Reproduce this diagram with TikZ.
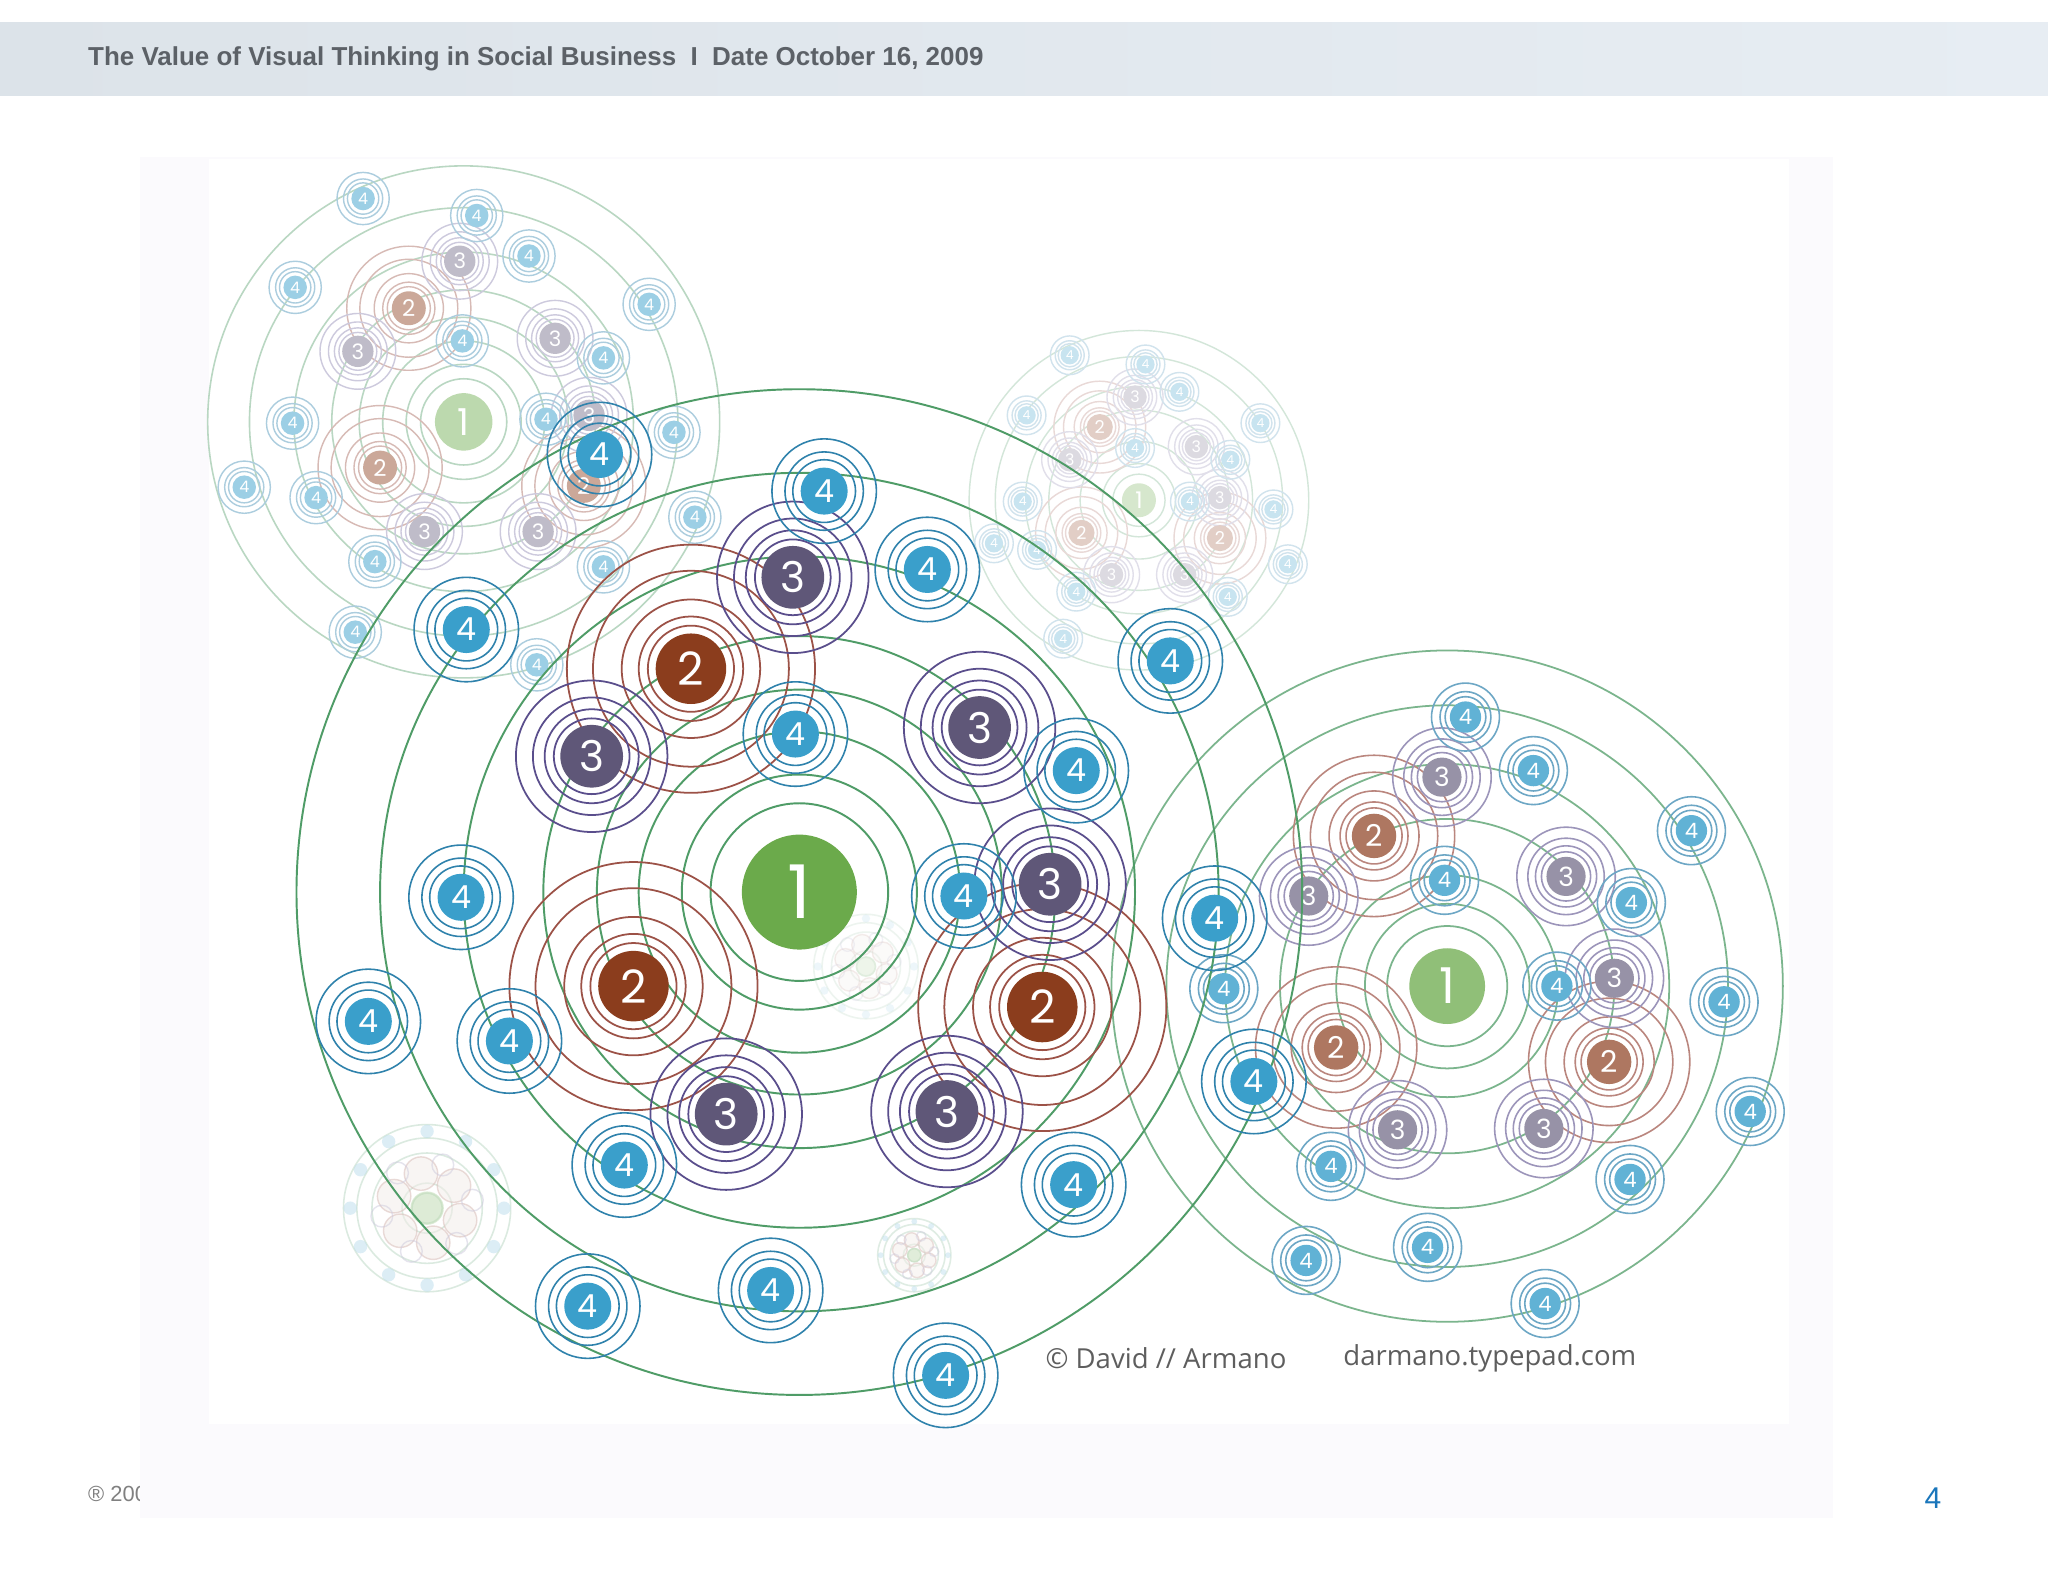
\documentclass[tikz,border=0pt]{standalone}
\usepackage{fontspec}
\setmainfont{Liberation Sans}
\newfontfamily\digitfont{Poppins}
\newfontfamily\creditfont{Open Sans}
\usetikzlibrary{positioning}

\definecolor{hdrleft}{HTML}{DCE3E9}
\definecolor{hdrright}{HTML}{E7EDF3}
\definecolor{hdrtext}{HTML}{5C6167}
\definecolor{panel}{HTML}{FBFAFD}
\definecolor{pageblue}{HTML}{1A76BB}
\definecolor{credit}{HTML}{5E5E5E}
\definecolor{mgreen}{HTML}{4F9C67}
\definecolor{mgreenfill}{HTML}{6BAA4B}
\definecolor{mbrown}{HTML}{8B3D1D}
\definecolor{mbrownline}{HTML}{9C5247}
\definecolor{mpurple}{HTML}{5F5778}
\definecolor{mpurpleline}{HTML}{5A4E8C}
\definecolor{mblue}{HTML}{3A9FCB}
\definecolor{mblueline}{HTML}{2F82AC}

\tikzset{
  disc/.style={circle, inner sep=0pt, text=white, minimum size=#1*0.026cm},
  % main cluster
  mline/.style={draw=mgreen, line width=0.55pt},
  mtworing/.style={draw=mbrownline, line width=0.5pt},
  mthreering/.style={draw=mpurpleline, line width=0.5pt},
  mfourring/.style={draw=mblueline, line width=0.45pt},
  mone/.style={disc=44, fill=mgreenfill, font=\digitfont\fontsize{21}{21}\selectfont},
  mtwo/.style={disc=27, fill=mbrown, font=\digitfont\fontsize{13}{13}\selectfont},
  mthree/.style={disc=24, fill=mpurple, font=\digitfont\fontsize{12}{12}\selectfont},
  mfour/.style={disc=18, fill=mblue, font=\digitfont\fontsize{9}{9}\selectfont},
  % right cluster
  rline/.style={draw=mgreen!75!white, line width=0.5pt},
  rtworing/.style={draw=mbrownline!70!white, line width=0.45pt},
  rthreering/.style={draw=mpurpleline!60!white, line width=0.45pt},
  rfourring/.style={draw=mblueline!70!white, line width=0.45pt},
  rone/.style={disc=29, fill=mgreenfill!75!white, font=\digitfont\fontsize{14}{14}\selectfont},
  rtwo/.style={disc=17, fill=mbrown!70!white, font=\digitfont\fontsize{8.5}{8.5}\selectfont},
  rthree/.style={disc=15, fill=mpurple!65!white, font=\digitfont\fontsize{7.5}{7.5}\selectfont},
  rfour/.style={disc=12, fill=mblue!80!white, font=\digitfont\fontsize{6}{6}\selectfont},
  % top left cluster
  tline/.style={draw=mgreen!40!white, line width=0.45pt},
  ttworing/.style={draw=mbrownline!40!white, line width=0.4pt},
  tthreering/.style={draw=mpurpleline!30!white, line width=0.4pt},
  tfourring/.style={draw=mblueline!40!white, line width=0.4pt},
  tone/.style={disc=22, fill=mgreenfill!45!white, font=\digitfont\fontsize{10.5}{10.5}\selectfont},
  ttwo/.style={disc=13, fill=mbrown!45!white, font=\digitfont\fontsize{6.5}{6.5}\selectfont},
  tthree/.style={disc=12, fill=mpurple!40!white, font=\digitfont\fontsize{6}{6}\selectfont},
  tfour/.style={disc=9, fill=mblue!50!white, font=\digitfont\fontsize{4.5}{4.5}\selectfont},
  % top middle cluster
  uline/.style={draw=mgreen!25!white, line width=0.4pt},
  utworing/.style={draw=mbrownline!22!white, line width=0.4pt},
  uthreering/.style={draw=mpurpleline!18!white, line width=0.4pt},
  ufourring/.style={draw=mblueline!22!white, line width=0.4pt},
  uone/.style={disc=13, fill=mgreenfill!28!white, font=\digitfont\fontsize{6.5}{6.5}\selectfont},
  utwo/.style={disc=10, fill=mbrown!25!white, font=\digitfont\fontsize{5}{5}\selectfont},
  uthree/.style={disc=9, fill=mpurple!22!white, font=\digitfont\fontsize{4.5}{4.5}\selectfont},
  ufour/.style={disc=7, fill=mblue!28!white, font=\digitfont\fontsize{3.5}{3.5}\selectfont},
  credittext/.style={inner sep=0pt, text=credit, font=\creditfont\fontsize{7.8}{9}\selectfont},
}

% #1 prefix, #2 theme, #3 scale, #4 centre, #5 orbit radii, #6 twos, #7 threes, #8 fours
\newcommand{\drawcluster}[8]{%
  \foreach \r in {#5} \draw[#2line] #4 circle (\r);
  \foreach \x/\y in {#6} \foreach \r in {33,40,53,75,95} \draw[#2tworing] (\x,\y) circle ({#3*\r});
  \foreach \x/\y in {#7} \foreach \r in {29,36,45,58} \draw[#2threering] (\x,\y) circle ({#3*\r});
  \foreach \x/\y in {#8} \foreach \r in {24,30,40} \draw[#2fourring] (\x,\y) circle ({#3*\r});
  \foreach \x/\y [count=\i] in {#8} \node[#2four] (#1-4-\i) at (\x,\y) {4};
  \foreach \x/\y [count=\i] in {#7} \node[#2three] (#1-3-\i) at (\x,\y) {3};
  \foreach \x/\y [count=\i] in {#6} \node[#2two] (#1-2-\i) at (\x,\y) {2};
  \node[#2one] (#1-1) at #4 {1};
}

% tiny faded cluster: name, x, y, radius, opacity
\newcommand{\minicluster}[5]{%
  \begin{scope}[shift={(#2,#3)}, opacity=#5]
    \foreach \f in {1,0.84,0.66,0.3,0.18} \draw[tline] (0,0) circle ({#4*\f});
    \foreach \a in {20,80,...,320} \draw[ttworing, fill=mbrown!10] (\a:{#4*0.42}) circle ({#4*0.2});
    \foreach \a in {50,110,...,350} \draw[tthreering] (\a:{#4*0.55}) circle ({#4*0.13});
    \foreach \a in {0,30,...,330} \fill[mblue!35!white] (\a:{#4*0.92}) circle ({#4*0.08});
    \node[tone, minimum size={#4*0.2*0.026cm}] (#1) at (0,0) {};
  \end{scope}
}

\begin{document}
\begin{tikzpicture}[x=0.013cm, y=-0.013cm]
  \useasboundingbox (0,0) rectangle (1568,1211);
  \fill[white] (0,0) rectangle (1568,1211);

  % header
  \fill[left color=hdrleft, right color=hdrright] (0,17) rectangle (1568,73);
  \node[anchor=west, inner sep=0pt, text=hdrtext, font=\bfseries\fontsize{7.35}{9}\selectfont]
    (title) at (67,45) {The Value of Visual Thinking in Social Business\ \ I\ \ Date October 16, 2009};

  % footer
  \node[anchor=west, inner sep=0pt, text=gray, font=\fontsize{6.2}{7}\selectfont] (copy) at (67,1144) {® 2009};
  \node[inner sep=0pt, text=pageblue, font=\fontsize{8.5}{9}\selectfont] (pagenum) at (1480,1147) {4};

  % picture panel
  \fill[panel] (107,120) rectangle (1403,1162);
  \fill[white] (160,122) rectangle (1370,1090);

  % faded clusters
  \drawcluster{u}{u}{0.37}{(872,383)}{20,28,45,69,87,110,130}
    {842/327, 828/408, 934/412}
    {869/304, 916/342, 934/381, 851/440, 907/440, 819/352}
    {819/272, 877/279, 903/300, 786/318, 965/324, 869/343, 942/352, 783/384,
     911/384, 975/390, 761/416, 794/421, 986/432, 824/453, 940/457, 814/489}
  \drawcluster{t}{t}{0.5}{(355,323)}{33,44,62,80,101,130,164,196}
    {313/236, 291/358, 447/372}
    {352/200, 274/269, 425/259, 325/407, 412/407, 451/318}
    {278/152, 365/165, 405/196, 226/220, 497/233, 354/261, 462/274, 224/324,
     418/321, 516/331, 187/373, 242/381, 532/396, 287/430, 462/434, 272/484, 411/509}
  \minicluster{mini1}{327}{925}{64}{0.5}
  \minicluster{mini2}{700}{961}{28}{0.45}
  \minicluster{mini3}{663}{740}{40}{0.25}

  % right cluster
  \drawcluster{r}{r}{0.65}{(1108,755)}{46,63,85,128,170,215,257}
    {1052/640, 1023/802, 1232/813}
    {1104/595, 1002/686, 1199/671, 1236/749, 1070/865, 1182/864}
    {1122/549, 1174/590, 1295/636, 1106/674, 1249/691, 1192/755, 1320/767,
     1340/851, 937/757, 1019/893, 1248/903, 1000/965, 1093/955, 1183/998}

  % main cluster
  \drawcluster{m}{m}{1}{(612,683)}{68,90,123,155,196,257,321,385}
    {529/512, 485/755, 798/771}
    {607/442, 453/579, 750/557, 804/677, 556/853, 725/851}
    {631/376, 710/436, 357/482, 459/348, 896/506, 609/562, 824/590, 353/687, 738/686,
     930/703, 282/782, 390/797, 960/828, 478/892, 822/907, 450/1000, 590/988, 724/1053}

  % credits
  \node[credittext, anchor=west] (author) at (800,1040) {© David // Armano};
  \node[credittext, anchor=west] (site) at (1028,1040) {darmano.typepad.com};
\end{tikzpicture}
\end{document}
